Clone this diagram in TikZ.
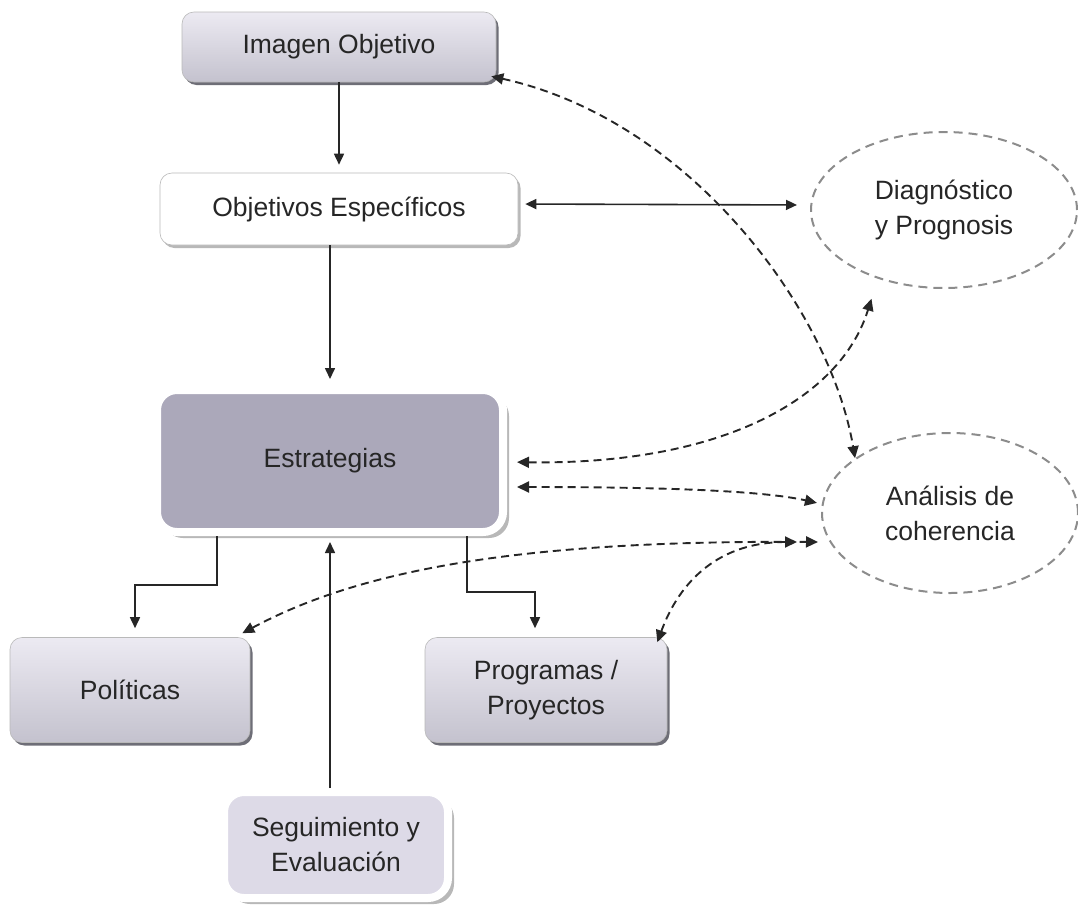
\documentclass[tikz,border=0pt]{standalone}
\usepackage{fontspec}
\setmainfont{Liberation Sans}
\usetikzlibrary{arrows.meta,shadows,shapes.geometric}
\definecolor{ink}{HTML}{262626}
\definecolor{boxtop}{HTML}{ECEAF2}
\definecolor{boxbot}{HTML}{C4C2CE}
\definecolor{estfill}{HTML}{ABA8BA}
\definecolor{segfill}{HTML}{DDDAE7}
\definecolor{rim}{HTML}{55555F}
\definecolor{ovalline}{HTML}{8C8C8C}
\begin{document}
\begin{tikzpicture}[x=1pt,y=-1pt,
  txt/.style={font=\fontsize{26.5}{35}\selectfont, text=ink, align=center, inner sep=0pt},
  box/.style={txt, rectangle, rounded corners=12pt},
  graybox/.style={box, top color=boxtop, bottom color=boxbot, draw=gray!55, line width=0.6pt,
    drop shadow={shadow xshift=2.5pt, shadow yshift=-3pt, fill=rim, opacity=0.85}},
  whitebox/.style={box, fill=white, draw=gray!55, line width=0.6pt,
    drop shadow={shadow xshift=2.5pt, shadow yshift=-3pt, fill=gray!70, opacity=0.8}},
  framebox/.style={box, rounded corners=20pt, fill=#1, draw=white, line width=8pt,
    drop shadow={shadow xshift=6pt, shadow yshift=-6pt, fill=gray!70, opacity=0.8}},
  oval/.style={txt, ellipse, draw=ovalline, line width=2pt, dash pattern=on 9pt off 6pt},
  conn/.style={draw=ink, line width=1.6pt, -{Triangle[length=11pt,width=10pt]}},
  connboth/.style={draw=ink, line width=1.6pt, {Triangle[length=11pt,width=10pt]}-{Triangle[length=11pt,width=10pt]}},
  dconnboth/.style={draw=ink, line width=1.9pt, dash pattern=on 8pt off 5pt,
    {Triangle[length=12pt,width=11pt]}-{Triangle[length=12pt,width=11pt]}}
]
\useasboundingbox (0,0) rectangle (1078,905);

% boxes of the planning chain
\node[graybox, minimum width=314pt, minimum height=70pt] (img) at (339,47) {Imagen Objetivo};
\node[whitebox, minimum width=358pt, minimum height=72pt] (obj) at (339,209) {Objetivos Específicos};
\node[framebox=estfill, minimum width=346pt, minimum height=142pt] (est) at (330,461) {Estrategias};
\node[graybox, minimum width=240pt, minimum height=105pt] (pol) at (130,690) {Políticas};
\node[graybox, minimum width=242pt, minimum height=105pt] (prog) at (546,690) {Programas /\\Proyectos};
\node[framebox=segfill, minimum width=224pt, minimum height=106pt] (seg) at (336,845) {Seguimiento y\\Evaluación};

% dashed ovals
\node[oval, minimum width=266pt, minimum height=156pt] (diag) at (944,210) {Diagnóstico\\y Prognosis};
\node[oval, minimum width=256pt, minimum height=160pt] (ana) at (950,513) {Análisis de\\coherencia};

% solid connectors
\draw[conn, shorten >=8pt] (img) -- (obj);
\draw[conn, shorten >=7pt] (obj.south -| est.north) -- (est.north);
\draw[conn, shorten >=9pt] ([xshift=-113pt]est.south) -- ++(0,49) -| ([xshift=5pt]pol.north);
\draw[conn, shorten >=9pt] ([xshift=137pt]est.south) -- ++(0,56) -| ([xshift=-11pt]prog.north);
\draw[conn, shorten >=6pt] (seg.north -| est.south) -- (est.south);
\draw[connboth, shorten <=7pt, shorten >=13pt] ([yshift=5pt]obj.east) -- ([yshift=5pt]diag.west);

% dashed relations
\draw[dconnboth] ([xshift=-5pt,yshift=6pt]img.south east) .. controls (690,120) and (830,310) .. (ana.150);
\draw[dconnboth, shorten <=10pt, shorten >=21pt] ([yshift=-1pt]est.east) .. controls (720,465) and (840,400) .. (diag.226);
\draw[dconnboth, shorten <=10pt, shorten >=5pt] ([yshift=-26pt]est.east) .. controls (650,487) and (760,490) .. (ana.176);
\draw[dconnboth, shorten >=3pt] ([xshift=-8pt,yshift=4pt]pol.north east) .. controls (360,570) and (520,540) .. ([yshift=-29pt]ana.west);
\draw[dconnboth, shorten >=24pt] ([xshift=-10pt,yshift=-5pt]prog.north east) .. controls (680,580) and (720,542) .. ([yshift=-29pt]ana.west);
\end{tikzpicture}
\end{document}
